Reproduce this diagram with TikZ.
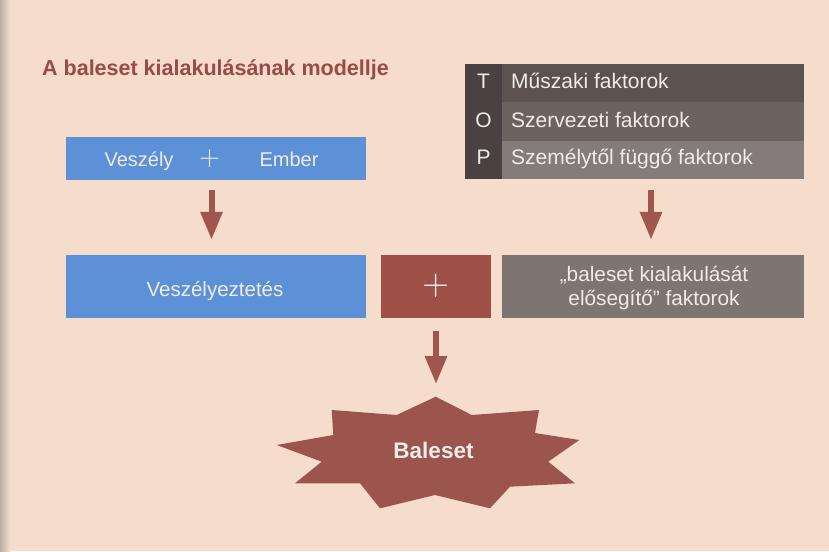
\documentclass[tikz,border=0pt]{standalone}
\usepackage{fontspec}
\setmainfont{Liberation Sans}
\newfontfamily\plusfont{lmsans10-regular.otf}
\usetikzlibrary{arrows.meta,calc}
\definecolor{bgc}{HTML}{F6DCCA}
\definecolor{titlec}{HTML}{9A4B46}
\definecolor{bluec}{HTML}{5C91D8}
\definecolor{redc}{HTML}{9E5048}
\definecolor{arrc}{HTML}{A0554F}
\definecolor{starc}{HTML}{9C544E}
\definecolor{grayc}{HTML}{7E7471}
\definecolor{rowa}{HTML}{5C5351}
\definecolor{rowb}{HTML}{6C6361}
\definecolor{rowc}{HTML}{837C7A}
\definecolor{colc}{HTML}{4A4242}
\definecolor{txtc}{HTML}{F0ECE8}
\begin{document}
\begin{tikzpicture}[x=1pt,y=-1pt,
  box/.style={rectangle,inner sep=0pt},
  rowbox/.style={rectangle,inner sep=0pt,anchor=west,minimum width=302pt,minimum height=38.5pt},
  txt/.style={inner sep=0pt,text=txtc,font=\fontsize{20}{23.3}\selectfont,anchor=base},
  rowtxt/.style={inner sep=0pt,text=txtc,font=\fontsize{21}{24}\selectfont,anchor=base west},
  plustext/.style={inner sep=0pt,text=txtc,font=\plusfont\fontsize{27}{27}\selectfont},
  fatarrow/.style={draw=arrc,line width=6pt,-{Triangle[width=21pt,length=28pt]}}]
\fill[bgc] (0,0) rectangle (829,551);
\useasboundingbox (0,0) rectangle (829,551);
\shade[left color=gray!50!bgc,right color=bgc] (0,0) rectangle (10,551);
% title
\node[anchor=base west,inner sep=0pt,text=titlec,font=\fontsize{21.5}{24}\selectfont\bfseries] (title) at (42,75) {A baleset kialakulásának modellje};
% top-left box
\node[box,fill=bluec,minimum width=300pt,minimum height=43pt] (vpe) at (216,158.5) {};
\node[txt] (vesz) at (139,166.7) {Veszély};
\node[plustext] (plus1) at (209.5,159) {+};
\node[txt] (emb) at (289,166.7) {Ember};
% TOP box
\node[rectangle,fill=colc,minimum width=37pt,minimum height=115pt,inner sep=0pt] (col) at (483.5,121.5) {};
\node[rowbox,fill=rowa] (t1) at (502,83.2) {};
\node[rowbox,fill=rowb] (t2) at (502,121.5) {};
\node[rowbox,fill=rowc] (t3) at (502,159.8) {};
\node[rowtxt] (t1t) at (511,88.7) {Műszaki faktorok};
\node[rowtxt] (t2t) at (511,127) {Szervezeti faktorok};
\node[rowtxt] (t3t) at (511,164) {Személytől függő faktorok};
\node[rowtxt,anchor=base] (lt) at (483.5,88.7) {T};
\node[rowtxt,anchor=base] (lo) at (483.5,127) {O};
\node[rowtxt,anchor=base] (lp) at (483.5,164) {P};
% middle row
\node[box,fill=bluec,minimum width=300pt,minimum height=63pt] (vez) at (216,286.5) {};
\node[txt,font=\fontsize{20.5}{24}\selectfont] (vezt) at (215,296.7) {Veszélyeztetés};
\node[box,fill=redc,minimum width=110pt,minimum height=63pt] (pl) at (436,286.5) {};
\node[plustext,font=\plusfont\fontsize{35}{35}\selectfont] (plt) at (436,285.3) {+};
\node[box,fill=grayc,minimum width=302pt,minimum height=63pt] (fac) at (653,286.5) {};
\node[txt,align=center,font=\fontsize{20.8}{23.3}\selectfont] (fact) at (654,305) {„baleset kialakulását\\elősegítő” faktorok};
% star
\fill[starc] (435.7,396.7) -- (471.7,415) -- (539,410) -- (535,433) -- (579.3,440) -- (548.3,461.7) -- (575,483.3) -- (510,486.7) -- (490,508.3) -- (435,495) -- (380,508.3) -- (360,483.3) -- (295,483.3) -- (321.7,461.7) -- (276.7,445) -- (333.3,435) -- (331.7,410) -- (396.7,415) -- cycle;
\coordinate (startop) at (436,384);
\node[anchor=base,inner sep=0pt,text=txtc,font=\fontsize{22.5}{24}\selectfont\bfseries] (bal) at (433.5,458.3) {Baleset};
% arrows
\draw[fatarrow] ($(plus1 |- vpe.south)+(2,10)$) -- ($(plus1 |- vez.north)+(2,-15)$);
\draw[fatarrow] ($(fac.north |- t3.south)+(-2,11)$) -- ($(fac.north)+(-2,-15)$);
\draw[fatarrow] ($(pl.south)+(0,13)$) -- (startop);
\end{tikzpicture}
\end{document}
